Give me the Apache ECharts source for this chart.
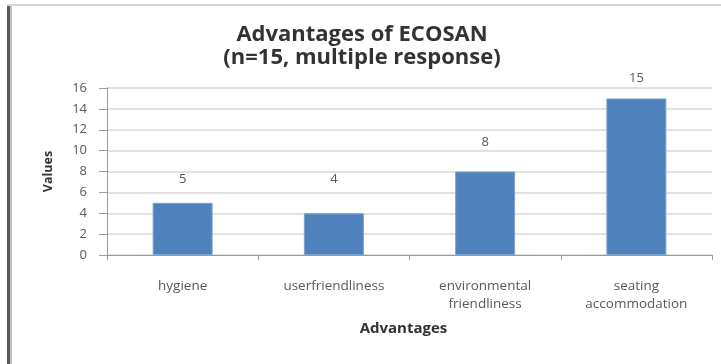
<!DOCTYPE html>
<html>
<head>
<meta charset="utf-8">
<script src="https://cdn.jsdelivr.net/npm/echarts@6/dist/echarts.min.js"></script>
<style>
  html, body { margin: 0; padding: 0; background: #ffffff; }
  #chart { width: 721px; height: 364px; }
</style>
</head>
<body>
<div id="chart"></div>
<script>
// Advantages of ECOSAN toilets (n=15, multiple response)
const categories = ['hygiene', 'userfriendliness', 'environmental\nfriendliness', 'seating\naccommodation'];
const values = [5, 4, 8, 15];
const yTicks = [0, 2, 4, 6, 8, 10, 12, 14, 16];

// distance between each bar top and its value label
const labelGap = [17, 27, 23, 14];

const FONT = '"Open Sans", "Liberation Sans", sans-serif';
const TEXT_GREY = '#595959';

const chart = echarts.init(document.getElementById('chart'), null, { renderer: 'canvas' });

chart.setOption({
  backgroundColor: '#ffffff',
  animation: false,
  title: {
    text: 'Advantages of ECOSAN\n(n=15, multiple response)',
    left: 357,
    top: 18,
    textAlign: 'center',
    textStyle: {
      fontFamily: FONT,
      fontWeight: 'bold',
      fontSize: 22,
      lineHeight: 23,
      color: '#333333'
    }
  },
  graphic: [
    // chart frame: dark left edge and light top edge
    { type: 'rect', shape: { x: 7, y: 4, width: 3, height: 360 }, style: { fill: '#5a5a5a' }, silent: true },
    { type: 'rect', shape: { x: 10, y: 6, width: 2, height: 358 }, style: { fill: '#c4c4c4' }, silent: true },
    { type: 'rect', shape: { x: 7, y: 4, width: 714, height: 2 }, style: { fill: '#d4d4d4' }, silent: true }
  ],
  grid: {
    left: 107,
    right: 9,
    top: 88,
    bottom: 109,
    containLabel: false
  },
  xAxis: {
    type: 'category',
    data: categories,
    name: 'Advantages',
    nameLocation: 'middle',
    nameGap: 66,
    nameTextStyle: {
      fontFamily: FONT,
      fontWeight: 'bold',
      fontSize: 15,
      color: '#333333',
      padding: [0, 12, 0, 0]
    },
    axisLine: { lineStyle: { color: '#9a9a9a', width: 1 } },
    axisTick: { show: true, length: 5, alignWithLabel: false, lineStyle: { color: '#9a9a9a' } },
    axisLabel: {
      interval: 0,
      margin: 22,
      fontFamily: FONT,
      fontSize: 13.5,
      lineHeight: 18,
      color: TEXT_GREY
    },
    splitLine: { show: false }
  },
  yAxis: {
    type: 'value',
    min: yTicks[0],
    max: yTicks[yTicks.length - 1],
    interval: yTicks[1] - yTicks[0],
    name: 'Values',
    nameLocation: 'middle',
    nameGap: 52,
    nameRotate: 90,
    nameTextStyle: {
      fontFamily: FONT,
      fontWeight: 'bold',
      fontSize: 12.5,
      color: '#333333'
    },
    axisLine: { show: true, lineStyle: { color: '#9a9a9a', width: 1 } },
    axisTick: { show: true, length: 8, inside: false, lineStyle: { color: '#9a9a9a' } },
    axisLabel: {
      margin: 20,
      fontFamily: FONT,
      fontSize: 13,
      color: TEXT_GREY
    },
    splitLine: { show: true, lineStyle: { color: '#d9d9d9', width: 1.5 } }
  },
  series: [{
    type: 'bar',
    barWidth: 60,
    data: values.map((v, i) => ({
      value: v,
      label: { distance: labelGap[i] }
    })),
    itemStyle: {
      color: '#4f81bd',
      borderColor: '#7fa3cf',
      borderWidth: 1
    },
    label: {
      show: true,
      position: 'top',
      fontFamily: FONT,
      fontSize: 13,
      color: TEXT_GREY
    }
  }]
});
</script>
</body>
</html>
